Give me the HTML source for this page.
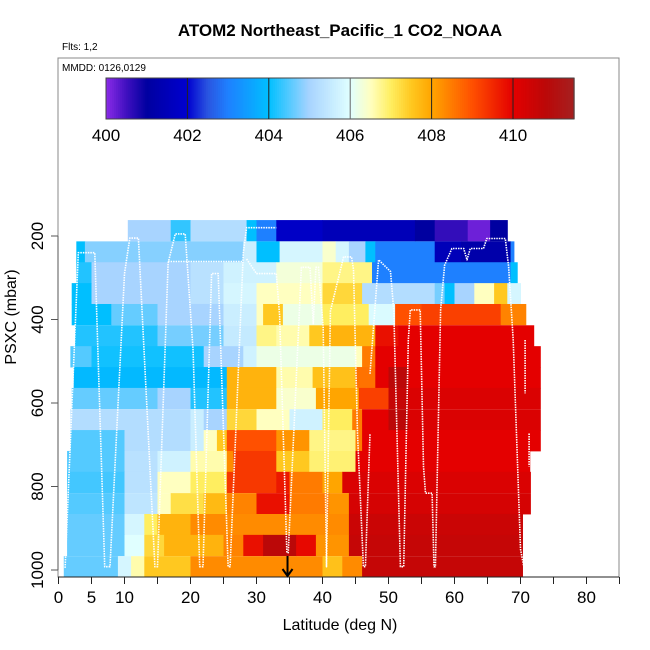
<!DOCTYPE html>
<html><head><meta charset="utf-8">
<style>
body{margin:0;background:#fff;}
svg{display:block;font-family:"Liberation Sans",Arial,sans-serif;}
</style></head>
<body>
<svg id="chart" width="650" height="650" viewBox="0 0 650 650">
<text x="340" y="36" text-anchor="middle" font-size="17" font-weight="bold">ATOM2 Northeast_Pacific_1 CO2_NOAA</text>
<text x="62" y="50" font-size="10">Flts: 1,2</text>
<rect x="58" y="58" width="561" height="519" fill="none" stroke="#888" stroke-width="1"/>
<text x="62" y="71" font-size="10">MMDD: 0126,0129</text>
<g id="colorbar"></g>
<g id="cells"></g>
<g id="tracks"></g>
<g id="axes"></g>
<text x="340" y="630" text-anchor="middle" font-size="16">Latitude (deg N)</text>
<text transform="translate(16,317) rotate(-90)" text-anchor="middle" font-size="16">PSXC (mbar)</text>
</svg>
<script>
const rowP=[187,238,288,338,388,439,489,539,589,640,690,740,790,841,891,941,992];
const rowBreaks=[
[10.5,17,20,28.5,30,33,40,54,57,62,65.4,68],
[2.7,4,28,30,33.5,40,42,44,46.5,48,57,61,68.5,69],
[2.7,5,20,25,33,40,47.5,68.5,69.5],
[2,5,20,25,30,40,46,57,58.5,60,63,66,68,70],
[2,8,15,25,30,31,34,40,47,51,55,67,70.8],
[2.5,15,25,30,33,38,40,48,51.5,72],
[1.8,5,22,28,30,45,46,48,73],
[2.3,25.5,33,38.5,45,48,50,53,73],
[2,15,20,25.5,33,39,45.5,50,53,73],
[1.8,20,22,25.5,30,35,40,44.5,46,50,53,73],
[1.8,10,20,22,24,25.5,33,38,45,46,73],
[1.3,10,15,20,25.5,26.5,33,38,45,71.4],
[1.3,10,15,20,25.5,33,35,40,43,71.5],
[1.3,10,15,17,22,25.5,30,35,41,44,71.5],
[1.3,10,13,15,20,44,70.3],
[1.3,10,13,16,25,28,31,36,39,44,70.3],
[0.8,9,11,13,20,40,43,46,70.3]];
const rowVals=[
[405,404.3,405.2,404,403,401.8,401.5,401,400.6,400.2,401],
[404,404.8,405.6,404,405.8,406.4,405.8,405,404,403,401.5,401.2,403],
[404.2,405,405.3,405.7,406.3,406.8,403,404],
[404,405,405.3,405.8,406.5,407.3,405.2,404.7,404,405,406.5,407.5,405.8],
[404,404.6,405,405.6,406.5,407.5,406.2,407,405.9,409,409.2,408.4],
[404.2,404.7,405.5,406.8,406.6,407.5,407.8,409.8,410],
[404.5,404.1,405,405.7,406.2,406.5,408.5,410],
[403.9,407.8,406.6,407.6,408.6,410,410.8,410],
[404.6,405,404.2,407.8,406.4,408,409.2,410.6,410.2],
[405.2,405.6,405,407.3,406.5,405.7,407,408.5,410,410.8,410.2],
[404.5,405.2,405.6,406.5,407.5,409,408.2,406.8,408.5,410],
[404.5,405.3,405.7,406.6,408.3,409.3,407.5,406.9,410],
[404.4,405.3,406.5,407,409.3,409.7,408.5,408,410.2],
[404.5,405.4,406.5,407.2,407.7,408.4,409.8,408.5,408.2,410.3],
[404.6,405.8,407,407.8,408.3,410.5],
[404.6,406,407.3,407.8,408.4,409.8,410.8,409.9,408.2,410.6],
[404.6,405.8,406.6,407.5,408.3,407.6,408.3,410.6]];
const trackLat=[1,3,5.5,7,7.8,10,10.8,12.1,14.6,15,16.6,17.7,19.2,20.4,21.4,21.9,23.2,24.2,25.7,26,28,28.5,33,null,
16.6,28,null,28.5,30,33,33.5,34.6,null,34.8,36.8,38.1,38.6,39,39.4,40.1,40.6,41.2,43.2,44.4,44.7,45.3,46.2,46.5,47.2,null,
47.2,48.5,50.3,50.8,51.8,52.3,53,53.3,54.8,55.3,55.6,56.6,56.9,57.1,57.9,58.5,59.6,61.4,61.9,62.4,64.4,64.9,67.7,68.2,68.9,70,70.5,null,
70.7,70.7,null,71.3,71.3];
const trackP=[995,240,240,992,992,290,205,205,992,992,265,195,195,475,992,992,290,290,992,992,240,180,180,null,
261,261,null,255,290,290,390,960,null,960,275,275,410,275,275,420,992,380,250,250,280,673,992,992,673,null,
530,257,285,380,992,992,449,377,377,752,816,816,992,992,377,270,230,230,257,230,230,206,206,273,449,950,992,null,
449,577,null,673,752];
const xTicks=[0,5,10,15,20,25,30,35,40,45,50,55,60,65,70,75,80,85];
const xLabels=[0,5,10,20,30,40,50,60,70,80];
const yTicks=[200,400,600,800,1000];
const cbTicks=[400,402,404,406,408,410];

const NS='http://www.w3.org/2000/svg';
const xS=lat=>58.5+lat*6.6;
const yS=p=>236+(p-200)*0.4175;
const cbX=v=>106+(v-400)*40.7;
const stops=[[400,'#8b2be8'],[400.5,'#4010c0'],[401,'#0000a0'],[402,'#0000d0'],[402.5,'#2a55e0'],[403,'#1e80ff'],[404,'#00bfff'],[405,'#a8d4ff'],[406,'#e0ffff'],[406.5,'#ffffc0'],[407,'#ffee60'],[407.5,'#ffc820'],[408,'#ffa500'],[409,'#ff5000'],[410,'#e40000'],[410.8,'#bb0808'],[411.5,'#a52020']];
function hx(c){return [1,3,5].map(i=>parseInt(c.substr(i,2),16));}
function col(v){
 if(v<=stops[0][0])return stops[0][1];
 for(let i=1;i<stops.length;i++){if(v<=stops[i][0]){const a=stops[i-1],b=stops[i],t=(v-a[0])/(b[0]-a[0]);const ca=hx(a[1]),cb=hx(b[1]);return 'rgb('+ca.map((x,k)=>Math.round(x+(cb[k]-x)*t)).join(',')+')';}}
 return stops[stops.length-1][1];
}
function mk(tag,attrs,parent){const e=document.createElementNS(NS,tag);for(const k in attrs)e.setAttribute(k,attrs[k]);parent.appendChild(e);return e;}

const cbg=document.getElementById('colorbar');
for(let v=400;v<411.5;v+=0.05){
 const r=mk('rect',{x:cbX(v),y:78,width:40.7*0.05+0.6,height:41,fill:col(v+0.025)},cbg);
 
 
}
mk('rect',{x:106,y:78,width:cbX(411.5)-106,height:41,fill:'none',stroke:'#444'},cbg);
cbTicks.forEach(t=>{
 if(t>400){const l=mk('line',{x1:cbX(t),x2:cbX(t),y1:78,y2:119,stroke:t==406?'#666':'#222'},cbg);
 
 }
 const tx=mk('text',{x:cbX(t),y:141,'text-anchor':'middle','font-size':17},cbg);tx.textContent=t;
 
 
});

const cg=document.getElementById('cells');
const hh=50.3*0.4175;
rowP.forEach((p,i)=>{
 const b=rowBreaks[i],vs=rowVals[i];
 for(let j=0;j<vs.length;j++){
  const r=mk('rect',{x:xS(b[j]),y:yS(p)-hh/2,width:xS(b[j+1])-xS(b[j])+0.5,height:hh+0.3,fill:col(vs[j])},cg);
  
  
 }
});

const tg=document.getElementById('tracks');
let pts=[];
function flush(){if(pts.length>1){const pl=mk('polyline',{points:pts.join(' '),fill:'none',stroke:'#fff','stroke-width':1.6,'stroke-dasharray':'1.5 1','stroke-linejoin':'round'},tg);
 
 }pts=[];}
for(let i=0;i<trackLat.length;i++){if(trackLat[i]===null){flush();continue;}pts.push(xS(trackLat[i]).toFixed(1)+','+yS(trackP[i]).toFixed(1));}
flush();

const ag=document.getElementById('axes');
mk('line',{x1:58,x2:619,y1:577,y2:577,stroke:'#222'},ag);
mk('line',{x1:58,x2:58,y1:236,y2:570,stroke:'#555'},ag);
xTicks.forEach(t=>{const l=mk('line',{x1:xS(t),x2:xS(t),y1:577,y2:584,stroke:'#222'},ag);
 
 });
xLabels.forEach(t=>{const tx=mk('text',{x:xS(t),y:603,'text-anchor':'middle','font-size':17},ag);tx.textContent=t;
 
 });
yTicks.forEach(t=>{const l=mk('line',{x1:51,x2:58,y1:yS(t),y2:yS(t),stroke:'#555'},ag);
 
 
 const tx=mk('text',{transform:'translate(43,'+yS(t)+') rotate(-90)','text-anchor':'middle','font-size':17},ag);tx.textContent=t;
 
 });
const ax=xS(34.7);
const al=mk('line',{x1:ax,x2:ax,y1:556,y2:575,stroke:'#000','stroke-width':2},ag);


mk('polyline',{points:(ax-5)+',569 '+ax+',576 '+(ax+5)+',569',fill:'none',stroke:'#000','stroke-width':2},ag);
</script>
</body></html>
